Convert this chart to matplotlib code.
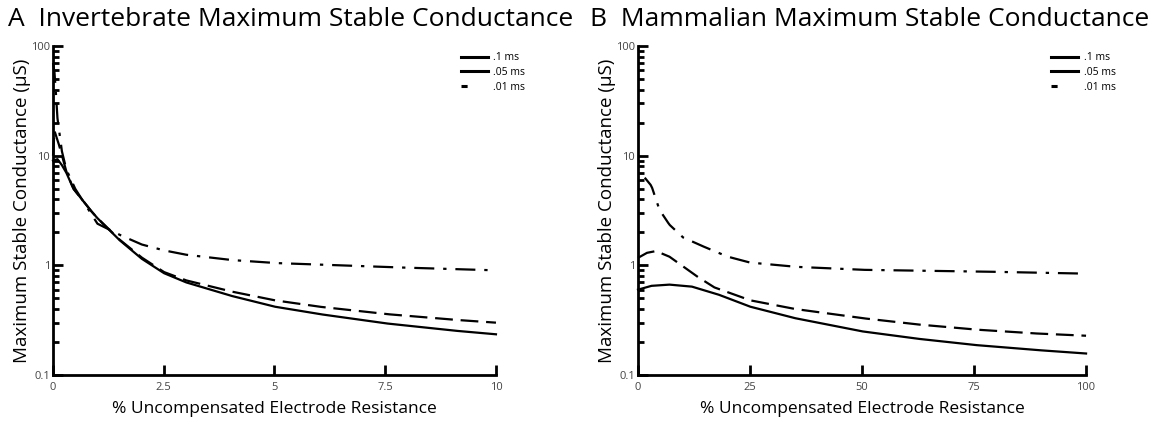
import numpy as np
import matplotlib.pyplot as plt
from matplotlib.lines import Line2D
from matplotlib.ticker import LogLocator, NullFormatter, FixedLocator

plt.rcParams['font.family'] = ['Open Sans', 'DejaVu Sans']

# Panel A: invertebrate (x in % uncompensated resistance, 0-10)
inv_x_01 = [0.0, 0.1, 0.2, 0.3, 0.46, 0.84, 1.0, 1.5, 2.0, 2.5, 3.0, 4.0, 5.0, 6.0, 7.5, 9.0, 10.0]
inv_y_01 = [9.0, 9.3, 8.2, 7.0, 5.0, 3.2, 2.7, 1.7, 1.15, 0.85, 0.70, 0.53, 0.42, 0.36, 0.296, 0.255, 0.235]
inv_x_005 = [0.0, 0.03, 0.15, 0.3, 0.46, 0.84, 1.0, 1.5, 2.0, 2.5, 3.0, 4.0, 5.0, 6.0, 7.5, 9.0, 10.0]
inv_y_005 = [10.0, 17.0, 12.0, 7.2, 5.0, 3.2, 2.7, 1.72, 1.18, 0.87, 0.73, 0.58, 0.48, 0.42, 0.36, 0.32, 0.30]
inv_x_001 = [0.0, 0.04, 0.1, 0.2, 0.3, 0.5, 1.0, 1.5, 2.0, 2.5, 3.0, 4.0, 5.0, 7.5, 10.0]
inv_y_001 = [70.0, 55.0, 22.0, 11.0, 7.5, 5.0, 2.4, 1.9, 1.55, 1.37, 1.25, 1.12, 1.05, 0.965, 0.90]

# Panel B: mammalian (0-100)
mam_x_01 = [0, 3, 7, 12, 18, 25, 35, 50, 62, 75, 88, 100]
mam_y_01 = [0.60, 0.65, 0.667, 0.64, 0.54, 0.42, 0.33, 0.25, 0.215, 0.188, 0.17, 0.157]
mam_x_005 = [0, 2, 4, 7, 10, 13, 17, 25, 35, 50, 62, 75, 88, 100]
mam_y_005 = [1.17, 1.30, 1.35, 1.20, 0.98, 0.80, 0.63, 0.48, 0.40, 0.33, 0.29, 0.26, 0.24, 0.228]
mam_x_001 = [1.5, 3, 4.8, 7, 10, 14, 20, 25, 35, 50, 75, 100]
mam_y_001 = [6.3, 5.3, 3.2, 2.35, 1.8, 1.52, 1.2, 1.06, 0.97, 0.91, 0.88, 0.84]

labels = [".1 ms", ".05 ms", ".01 ms"]
styles = ["-", (0, (8, 3.5)), (0, (9, 4, 1.5, 4))]
# legend samples as they appear in the figure (short handles)
legend_styles = ["-", "-", (0, (2.0, 11.0))]

fig = plt.figure(figsize=(11.55, 4.21), dpi=100)
axA = fig.add_axes([0.0459, 0.1093, 0.3835, 0.7814])
axB = fig.add_axes([0.5524, 0.1093, 0.3879, 0.7814])


def smooth(x, y, n=300):
    xs = np.linspace(x[0], x[-1], n)
    ys = 10 ** np.interp(xs, x, np.log10(y))
    return xs, ys


def style_axis(ax, xmax, xticks, xticklabels):
    ax.set_yscale("log")
    ax.set_ylim(0.1, 100)
    ax.set_xlim(0, xmax)
    for s in ["top", "right"]:
        ax.spines[s].set_visible(False)
    for s in ["left", "bottom"]:
        ax.spines[s].set_linewidth(2)
    ax.xaxis.set_major_locator(FixedLocator(xticks))
    ax.set_xticklabels(xticklabels)
    ax.yaxis.set_major_locator(FixedLocator([0.1, 1, 10, 100]))
    ax.set_yticklabels(["0.1", "1", "10", "100"])
    ax.yaxis.set_minor_locator(LogLocator(base=10, subs=np.arange(2, 10)))
    ax.yaxis.set_minor_formatter(NullFormatter())
    ax.tick_params(axis="both", which="major", direction="in", width=2, length=7,
                   labelsize=8, labelcolor="#444444")
    ax.tick_params(axis="x", which="major", pad=5)
    ax.tick_params(axis="y", which="major", pad=2)
    ax.tick_params(axis="y", which="minor", direction="in", width=2, length=4)
    ax.set_xlabel("% Uncompensated Electrode Resistance", fontsize=12.5, labelpad=6)
    ax.set_ylabel("Maximum Stable Conductance (\u03bcS)", fontsize=13.5, labelpad=0)


data_sets = [
    (axA, [(inv_x_01, inv_y_01), (inv_x_005, inv_y_005), (inv_x_001, inv_y_001)], 1.08),
    (axB, [(mam_x_01, mam_y_01), (mam_x_005, mam_y_005), (mam_x_001, mam_y_001)], 1.08),
]
for ax, series, lx in data_sets:
    for (x, y), lab, ls in zip(series, labels, styles):
        xs, ys = smooth(x, y)
        ax.plot(xs, ys, color="black", lw=1.6, ls=ls, clip_on=False)
    handles = [Line2D([], [], color="black", lw=2.2, ls=ls) for ls in legend_styles]
    ax.legend(handles, labels, loc="upper right", bbox_to_anchor=(lx, 1.0),
              frameon=False, handlelength=2.6, labelspacing=0.35,
              handletextpad=0.5, borderaxespad=0.2, prop={"size": 7.5})

style_axis(axA, 10, [0, 2.5, 5, 7.5, 10], ["0", "2.5", "5", "7.5", "10"])
style_axis(axB, 100, [0, 25, 50, 75, 100], ["0", "25", "50", "75", "100"])

fig.text(8 / 1155, 1 - 20 / 421, "A  Invertebrate Maximum Stable Conductance",
         fontsize=19, va="center", ha="left")
fig.text(590 / 1155, 1 - 20 / 421, "B  Mammalian Maximum Stable Conductance",
         fontsize=19, va="center", ha="left")

fig.savefig("out.png", dpi=100)
